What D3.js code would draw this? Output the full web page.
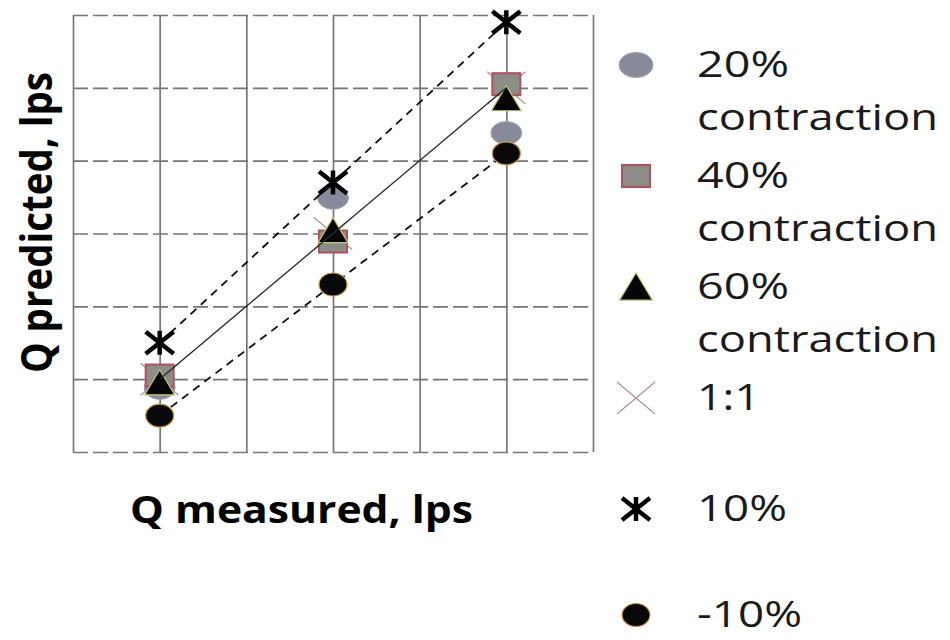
<!DOCTYPE html>
<html>
<head>
<meta charset="utf-8">
<script src="https://cdn.jsdelivr.net/npm/d3@7"></script>
<style>
  html, body { margin: 0; padding: 0; background: #fff; }
  svg { display: block; }
</style>
</head>
<body>
<svg id="chart" width="950" height="640"></svg>
<script>
// ---------- DATA ----------
const categories = [5, 7, 9];                 // Q measured, lps
const seriesNames = ["20% contraction", "40% contraction", "60% contraction", "1:1", "10%", "-10%"];
const contraction20 = [4.88, 7.49, 8.38];
const contraction40 = [5.05, 6.89, 9.05];
const contraction60 = [4.95, 7.04, 8.85];
const oneToOne      = [5.0, 7.0, 9.0];
const plus10        = [5.5, 7.7, 9.9];
const minus10       = [4.5, 6.3, 8.1];
const xTicks = [4, 5, 6, 7, 8, 9, 10];
const yTicks = [4, 5, 6, 7, 8, 9, 10];
const xTitle = "Q measured, lps";
const yTitle = "Q predicted, lps";

// ---------- LAYOUT ----------
const svg = d3.select("#chart");
const plot = { left: 73, right: 593, top: 15, bottom: 452 };
const x = d3.scaleLinear().domain([4, 10]).range([plot.left, plot.right]);
const y = d3.scaleLinear().domain([4, 10]).range([plot.bottom, plot.top]);

// gridlines via axes
const gx = svg.append("g")
  .attr("transform", `translate(0,${plot.bottom})`)
  .call(d3.axisBottom(x).tickValues(xTicks).tickSize(-(plot.bottom - plot.top)).tickFormat(""));
gx.select(".domain").remove();
gx.selectAll(".tick line").attr("stroke", "#767676").attr("stroke-width", 1.7);

const gy = svg.append("g")
  .attr("transform", `translate(${plot.left},0)`)
  .call(d3.axisLeft(y).tickValues(yTicks).tickSize(-(plot.right - plot.left)).tickFormat(""));
gy.select(".domain").remove();
gy.selectAll(".tick line").attr("stroke", "#767676").attr("stroke-width", 1.7)
  .attr("stroke-dasharray", "15,5");

// ---------- MARKERS ----------
function drawMarker(g, kind, k = 1) {
  switch (kind) {
    case "ellipse":
      g.append("ellipse").attr("rx", 15.5 * k).attr("ry", 11.5 * k)
        .attr("fill", "#878a9a").attr("stroke", "#a4a8bc").attr("stroke-width", 1);
      break;
    case "square":
      g.append("rect").attr("x", -14).attr("y", -11).attr("width", 28).attr("height", 22)
        .attr("fill", "#8b8d88").attr("stroke", "#b4505e").attr("stroke-width", 2);
      break;
    case "triangle":
      g.append("path").attr("d", `M0,${-13 * k} L${15 * k},${12 * k} L${-15 * k},${12 * k} Z`)
        .attr("fill", "#050505").attr("stroke", "#c9c97a").attr("stroke-width", 1.2);
      break;
    case "cross":
      g.append("path").attr("d", "M-19,-16 L19,16 M-19,16 L19,-16")
        .attr("fill", "none").attr("stroke", "#b09494").attr("stroke-width", 1.3);
      break;
    case "star":
      g.append("path").attr("d", "M-14,-11 L14,11 M-14,11 L14,-11 M0,-12 L0,12")
        .attr("fill", "none").attr("stroke", "#000").attr("stroke-width", 4.5);
      break;
    case "dot":
      g.append("ellipse").attr("rx", 14).attr("ry", 11.5)
        .attr("fill", "#080808").attr("stroke", "#d39a48").attr("stroke-width", 1.2);
      break;
  }
}

const series = [
  { name: seriesNames[0], values: contraction20, marker: "ellipse", line: null },
  { name: seriesNames[1], values: contraction40, marker: "square", line: null },
  { name: seriesNames[2], values: contraction60, marker: "triangle", line: null },
  { name: seriesNames[3], values: oneToOne, marker: "cross", line: "solid" },
  { name: seriesNames[4], values: plus10, marker: "star", line: "dash" },
  { name: seriesNames[5], values: minus10, marker: "dot", line: "dash" }
];

const lineGen = d3.line().x(d => x(d[0])).y(d => y(d[1]));
const pointsOf = s => categories.map((c, i) => [c, s.values[i]]);
const markerLayer = (s) => {
  const g = svg.append("g");
  pointsOf(s).forEach(p => {
    const m = g.append("g").attr("transform", `translate(${x(p[0])},${y(p[1])})`);
    drawMarker(m, s.marker);
  });
};
const lineLayer = (s) => {
  svg.append("path").attr("d", lineGen(pointsOf(s))).attr("fill", "none")
    .attr("stroke", s.line === "solid" ? "#2a2a2a" : "#111")
    .attr("stroke-width", s.line === "solid" ? 1.3 : 1.8)
    .attr("stroke-dasharray", s.line === "dash" ? "8,6" : null);
};

// 1:1 markers sit beneath the contraction markers
markerLayer(series[3]);
markerLayer(series[0]);
markerLayer(series[1]);
markerLayer(series[2]);
lineLayer(series[3]);
lineLayer(series[4]);
markerLayer(series[4]);
lineLayer(series[5]);
markerLayer(series[5]);

// ---------- AXIS TITLES ----------
svg.append("text")
  .attr("x", 130).attr("y", 523)
  .attr("font-family", "'Open Sans', sans-serif").attr("font-weight", 700)
  .attr("font-size", 38).attr("fill", "#000")
  .attr("textLength", 343).attr("lengthAdjust", "spacingAndGlyphs")
  .text(xTitle);

svg.append("text")
  .attr("transform", "translate(52,373) scale(1.17,1) rotate(-90)")
  .attr("font-family", "'Open Sans', sans-serif").attr("font-weight", 700)
  .attr("font-size", 37).attr("fill", "#000")
  .attr("textLength", 301).attr("lengthAdjust", "spacingAndGlyphs")
  .text(yTitle);

// ---------- LEGEND ----------
const legendRows = [
  { lines: ["20%", "contraction"], widths: [92, 241], marker: "ellipse" },
  { lines: ["40%", "contraction"], widths: [92, 241], marker: "square" },
  { lines: ["60%", "contraction"], widths: [92, 241], marker: "triangle" },
  { lines: ["1:1"], widths: [63], marker: "cross" },
  { lines: ["10%"], widths: [90], marker: "star" },
  { lines: ["-10%"], widths: [105], marker: "dot" }
];
const legendTop = 77, legendStep = 111, lineStep = 53, legendMaxBase = 627;
legendRows.forEach((r, i) => {
  const base = Math.min(legendTop + i * legendStep, legendMaxBase);
  const m = svg.append("g").attr("transform", `translate(636,${base - 12})`);
  drawMarker(m, r.marker, 1.1);
  r.lines.forEach((t, j) => {
    svg.append("text")
      .attr("x", 697).attr("y", base + j * lineStep)
      .attr("font-family", "'Open Sans', sans-serif")
      .attr("font-size", 36).attr("fill", "#1a1a1a")
      .attr("textLength", r.widths[j]).attr("lengthAdjust", "spacingAndGlyphs")
      .text(t);
  });
});
</script>
</body>
</html>
